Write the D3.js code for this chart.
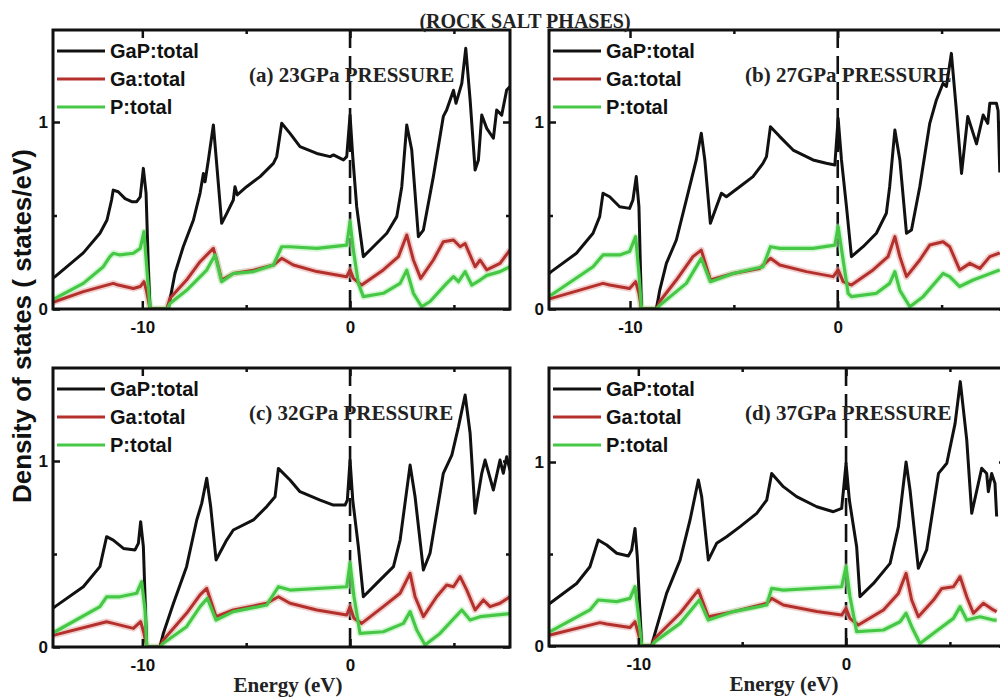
<!DOCTYPE html>
<html lang="en">
<head>
<meta charset="utf-8">
<title>GaP rock salt DOS</title>
<script src="https://cdnjs.cloudflare.com/ajax/libs/d3/7.8.5/d3.min.js"></script>
<style>
  body { margin: 0; background: #fff; }
  svg { display: block; }
  .tick text { font-family: "Liberation Sans", Arial, sans-serif; font-weight: bold; font-size: 17px; fill: #111; }
  .tick line { stroke: #111; stroke-width: 2.5px; }
  .legend text { font-family: "Liberation Sans", Arial, sans-serif; font-weight: bold; font-size: 20px; fill: #111; }
  .serif { font-family: "Liberation Serif", "Times New Roman", serif; font-weight: bold; fill: #222; }
</style>
</head>
<body>
<div id="vis"></div>
<script>
// energies in eV, DOS in states/eV
var gap23 = [[-14.3,0.165],[-14.2,0.173],[-12.84,0.30],[-12.04,0.405],[-11.7,0.476],[-11.48,0.583],[-11.4,0.636],[-11.16,0.627],[-10.83,0.59],[-10.51,0.574],[-10.27,0.574],[-10.1,0.60],[-9.95,0.752],[-9.82,0.62],[-9.71,0.226],[-9.63,0],[-8.75,0],[-8.67,0.05],[-8.43,0.19],[-8.03,0.333],[-7.54,0.476],[-7.22,0.62],[-7.06,0.725],[-6.98,0.68],[-6.82,0.797],[-6.58,0.984],[-6.45,0.815],[-6.18,0.458],[-5.94,0.51],[-5.62,0.583],[-5.54,0.654],[-5.43,0.61],[-4.98,0.654],[-4.33,0.708],[-3.69,0.779],[-3.53,0.815],[-3.29,0.993],[-2.89,0.939],[-2.41,0.868],[-1.6,0.832],[-0.96,0.815],[-0.8,0.824],[-0.32,0.797],[-0.16,0.815],[0,1.037],[0.13,0.815],[0.32,0.547],[0.64,0.28],[1.12,0.333],[1.77,0.405],[2.25,0.494],[2.49,0.654],[2.73,0.984],[2.97,0.85],[3.29,0.387],[3.53,0.422],[4.01,0.708],[4.49,1.03],[4.65,1.064],[4.98,1.17],[5.1,1.1],[5.38,1.207],[5.57,1.394],[5.78,1.118],[6.02,0.743],[6.18,0.797],[6.34,1.037],[6.58,0.966],[6.9,0.913],[7.06,1.064],[7.3,1.037],[7.54,1.171],[7.7,1.19]];
var ga23 = [[-14.3,0.035],[-14.2,0.04],[-12.84,0.093],[-11.4,0.137],[-11.16,0.128],[-10.43,0.11],[-10.1,0.12],[-9.92,0.146],[-9.79,0.093],[-9.63,0],[-8.83,0],[-8.67,0.057],[-7.87,0.155],[-7.22,0.253],[-6.58,0.324],[-6.42,0.262],[-6.18,0.155],[-5.62,0.19],[-4.65,0.208],[-3.69,0.235],[-3.29,0.271],[-2.73,0.235],[-1.6,0.2],[-0.16,0.173],[0,0.209],[0.16,0.164],[0.56,0.128],[1.6,0.209],[2.33,0.28],[2.73,0.396],[3.05,0.262],[3.4,0.164],[4.01,0.262],[4.49,0.36],[4.98,0.369],[5.3,0.333],[5.54,0.35],[6.02,0.226],[6.26,0.262],[6.58,0.209],[6.9,0.227],[7.22,0.244],[7.7,0.316]];
var p23 = [[-14.3,0.05],[-14.2,0.057],[-12.84,0.137],[-11.88,0.226],[-11.56,0.28],[-11.4,0.298],[-11.08,0.289],[-10.43,0.298],[-10.1,0.324],[-9.92,0.414],[-9.79,0.226],[-9.63,0],[-8.8,0],[-8.67,0.03],[-7.87,0.1],[-6.9,0.208],[-6.5,0.289],[-6.18,0.146],[-5.62,0.19],[-4.65,0.2],[-3.69,0.235],[-3.29,0.333],[-2.89,0.333],[-1.6,0.324],[-0.16,0.342],[0,0.467],[0.16,0.315],[0.4,0.137],[0.64,0.066],[1.6,0.084],[2.41,0.137],[2.73,0.208],[3.05,0.084],[3.45,0.012],[3.85,0.04],[4.65,0.137],[4.98,0.173],[5.22,0.146],[5.54,0.2],[5.86,0.128],[6.26,0.155],[6.58,0.18],[7.22,0.2],[7.7,0.226]];

var gap27 = [[-13.9,0.19],[-13.79,0.2],[-12.58,0.298],[-11.78,0.405],[-11.46,0.494],[-11.3,0.619],[-10.98,0.6],[-10.5,0.547],[-10.02,0.538],[-9.86,0.583],[-9.7,0.708],[-9.57,0.547],[-9.45,0],[-8.73,0],[-8.57,0.1],[-8.25,0.244],[-7.77,0.369],[-7.13,0.654],[-6.81,0.797],[-6.57,0.94],[-6.4,0.797],[-6.13,0.458],[-5.84,0.547],[-5.6,0.619],[-5.36,0.6],[-4.72,0.654],[-4.08,0.708],[-3.6,0.779],[-3.43,0.815],[-3.24,0.975],[-2.79,0.922],[-2.15,0.85],[-1.19,0.797],[-0.55,0.779],[-0.14,0.77],[0.02,1.02],[0.18,0.797],[0.42,0.547],[0.66,0.28],[1.22,0.333],[1.86,0.405],[2.34,0.512],[2.5,0.654],[2.75,0.957],[2.99,0.797],[3.31,0.405],[3.55,0.422],[3.95,0.654],[4.43,0.993],[4.75,1.118],[5.07,1.207],[5.23,1.19],[5.47,1.367],[5.71,1.064],[5.96,0.725],[6.26,1.03],[6.68,0.883],[7.0,1.037],[7.22,0.993],[7.32,1.1],[7.64,1.1],[7.72,1.06],[7.8,0.73]];
var ga27 = [[-13.9,0.055],[-13.79,0.057],[-11.3,0.137],[-10.98,0.128],[-10.02,0.11],[-9.73,0.146],[-9.57,0.084],[-9.45,0],[-8.73,0],[-8.57,0.04],[-7.77,0.155],[-6.97,0.28],[-6.57,0.315],[-6.13,0.155],[-5.04,0.19],[-3.76,0.217],[-3.24,0.271],[-2.79,0.235],[-1.51,0.2],[-0.22,0.173],[0.02,0.209],[0.26,0.146],[0.66,0.128],[1.7,0.209],[2.42,0.28],[2.75,0.387],[2.99,0.28],[3.31,0.173],[3.95,0.262],[4.43,0.342],[5.07,0.36],[5.39,0.333],[5.87,0.209],[6.36,0.244],[6.84,0.217],[7.32,0.28],[7.8,0.3]];
var p27 = [[-13.9,0.07],[-13.79,0.075],[-11.78,0.226],[-11.3,0.289],[-10.5,0.289],[-10.02,0.307],[-9.73,0.387],[-9.57,0.19],[-9.45,0],[-8.73,0],[-8.57,0.02],[-7.29,0.137],[-6.57,0.271],[-6.13,0.146],[-5.04,0.19],[-3.6,0.226],[-3.24,0.333],[-2.79,0.324],[-1.19,0.324],[-0.14,0.342],[0.02,0.44],[0.26,0.262],[0.5,0.084],[0.66,0.066],[1.86,0.084],[2.5,0.137],[2.75,0.2],[2.99,0.1],[3.47,0.012],[4.11,0.066],[5.07,0.19],[5.39,0.173],[5.87,0.12],[6.52,0.155],[7.8,0.209]];

var gap32 = [[-14.3,0.21],[-14.2,0.217],[-12.84,0.324],[-12.04,0.432],[-11.72,0.593],[-11.4,0.575],[-10.91,0.53],[-10.35,0.522],[-10.19,0.557],[-10.08,0.674],[-9.95,0.54],[-9.79,0],[-9.15,0],[-8.99,0.073],[-8.5,0.235],[-7.87,0.432],[-7.38,0.683],[-7.14,0.772],[-6.9,0.907],[-6.71,0.755],[-6.45,0.468],[-5.94,0.575],[-5.62,0.629],[-4.65,0.683],[-4.01,0.755],[-3.61,0.808],[-3.45,0.96],[-2.89,0.898],[-2.41,0.835],[-1.44,0.79],[-0.8,0.763],[-0.24,0.763],[-0.13,0.79],[0,1.005],[0.13,0.79],[0.4,0.54],[0.64,0.27],[1.28,0.342],[2.09,0.432],[2.41,0.575],[2.89,0.978],[3.13,0.808],[3.53,0.414],[3.85,0.504],[4.49,0.934],[4.9,1.032],[5.22,1.185],[5.54,1.355],[5.78,1.149],[6.02,0.719],[6.34,0.934],[6.5,1.005],[6.9,0.844],[7.22,1.005],[7.38,0.934],[7.54,1.023],[7.7,0.95]];
var ga32 = [[-14.3,0.062],[-14.2,0.065],[-11.72,0.136],[-11.4,0.127],[-10.43,0.1],[-10.08,0.136],[-9.92,0.073],[-9.79,0],[-9.15,0],[-8.99,0.038],[-7.87,0.181],[-7.22,0.28],[-6.9,0.315],[-6.45,0.163],[-5.62,0.199],[-4.01,0.235],[-3.45,0.27],[-2.89,0.235],[-1.6,0.199],[-0.16,0.172],[0,0.217],[0.19,0.154],[0.56,0.127],[1.6,0.217],[2.41,0.289],[2.89,0.396],[3.13,0.27],[3.53,0.163],[4.17,0.27],[4.65,0.333],[4.98,0.324],[5.3,0.378],[5.62,0.306],[6.02,0.199],[6.42,0.253],[6.74,0.217],[7.22,0.235],[7.7,0.27]];
var p32 = [[-14.3,0.078],[-14.2,0.082],[-12.04,0.217],[-11.72,0.27],[-11.08,0.27],[-10.27,0.289],[-10.03,0.351],[-9.87,0.199],[-9.79,0],[-9.15,0],[-8.99,0.02],[-7.87,0.109],[-7.22,0.217],[-6.87,0.262],[-6.45,0.145],[-5.62,0.19],[-4.01,0.226],[-3.45,0.324],[-2.89,0.306],[-0.16,0.324],[0,0.45],[0.19,0.27],[0.48,0.073],[1.6,0.082],[2.57,0.127],[2.89,0.19],[3.21,0.091],[3.61,0.011],[4.33,0.073],[5.38,0.199],[5.78,0.145],[6.26,0.163],[7.7,0.18]];

var gap37 = [[-14.3,0.228],[-14.25,0.232],[-12.97,0.34],[-12.33,0.431],[-11.93,0.576],[-11.52,0.549],[-11.04,0.504],[-10.48,0.489],[-10.32,0.522],[-10.16,0.639],[-10.05,0.486],[-9.84,0],[-9.36,0],[-9.2,0.069],[-8.64,0.286],[-7.99,0.467],[-7.51,0.685],[-7.11,0.902],[-6.95,0.812],[-6.63,0.467],[-6.23,0.558],[-5.75,0.594],[-5.1,0.649],[-4.3,0.721],[-3.82,0.793],[-3.58,0.938],[-3.02,0.866],[-2.38,0.812],[-1.41,0.757],[-0.61,0.73],[-0.21,0.748],[0,0.993],[0.16,0.793],[0.51,0.54],[0.67,0.268],[1.32,0.34],[2.12,0.449],[2.52,0.649],[2.89,1.0],[3.08,0.848],[3.48,0.422],[3.88,0.522],[4.45,0.938],[4.85,0.993],[5.25,1.21],[5.5,1.437],[5.81,1.12],[6.05,0.721],[6.53,0.966],[6.77,0.938],[6.85,0.839],[7.01,0.938],[7.17,0.884],[7.25,0.704]];
var ga37 = [[-14.3,0.058],[-14.25,0.06],[-11.85,0.127],[-11.52,0.12],[-10.4,0.101],[-10.16,0.132],[-10.0,0.069],[-9.84,0],[-9.36,0],[-9.2,0.042],[-7.99,0.178],[-7.11,0.304],[-6.63,0.159],[-5.43,0.187],[-3.82,0.232],[-3.58,0.259],[-3.02,0.223],[-1.41,0.187],[-0.21,0.168],[0,0.205],[0.19,0.15],[0.59,0.114],[1.8,0.196],[2.52,0.286],[2.89,0.395],[3.16,0.25],[3.48,0.159],[4.21,0.25],[4.61,0.313],[5.17,0.322],[5.49,0.377],[5.81,0.268],[6.13,0.178],[6.61,0.232],[7.09,0.196],[7.25,0.187]];
var p37 = [[-14.3,0.075],[-14.25,0.078],[-12.33,0.196],[-11.93,0.25],[-11.04,0.241],[-10.4,0.259],[-10.16,0.322],[-10.0,0.178],[-9.84,0],[-9.36,0],[-9.2,0.024],[-7.99,0.123],[-7.06,0.25],[-6.63,0.141],[-5.43,0.187],[-3.82,0.223],[-3.58,0.313],[-3.02,0.304],[-0.21,0.322],[0,0.431],[0.19,0.268],[0.51,0.078],[1.8,0.087],[2.6,0.132],[2.89,0.178],[3.16,0.105],[3.56,0.014],[4.21,0.069],[5.17,0.15],[5.49,0.214],[5.81,0.141],[6.45,0.159],[7.09,0.141],[7.25,0.141]];

var seriesNames = ['GaP:total', 'Ga:total', 'P:total'];
var panelTags = ['(a)', '(b)', '(c)', '(d)'];
var pressures = ['23GPa', '27GPa', '32GPa', '37GPa'];
var xMajorTicks = [-10, 0];
var xMinorTicks = [-5, 5];
var yMajorTicks = [0, 1];
var yMinorTicks = [0.5];
var allData = [[gap23, ga23, p23], [gap27, ga27, p27], [gap32, ga32, p32], [gap37, ga37, p37]];

var colors = ['#111111', '#b3302c', '#46c846'];
var halos = [null, '#e6a7a4', '#aef0ae'];
var widths = [3, 3, 3.2];

// panel boxes in pixels, plus the x range each frame covers
var layout = [
  {left: 53,  top: 30,  w: 457, h: 279, x0: -14.3, x1: 7.7, yMax: 1.492, xlab: false},
  {left: 549, top: 30,  w: 457, h: 279, x0: -13.9, x1: 8.1, yMax: 1.492, xlab: false},
  {left: 53,  top: 368, w: 457, h: 279, x0: -14.3, x1: 7.7, yMax: 1.5,   xlab: true},
  {left: 549, top: 368, w: 457, h: 278, x0: -14.3, x1: 7.7, yMax: 1.511, xlab: true}
];

var width = 1000, height = 699;

var svg = d3.select('#vis')
  .append('svg')
  .attr('width', width)
  .attr('height', height);

svg.append('rect').attr('width', width).attr('height', height).attr('fill', '#fff');

var defs = svg.append('defs');

layout.forEach(function(p, i) {
  var x = d3.scaleLinear().domain([p.x0, p.x1]).range([0, p.w]);
  var y = d3.scaleLinear().domain([0, p.yMax]).range([p.h, 0]);

  defs.append('clipPath')
    .attr('id', 'clip' + i)
    .append('rect')
    .attr('width', p.w)
    .attr('height', p.h);

  var g = svg.append('g')
    .attr('transform', 'translate(' + p.left + ',' + p.top + ')');

  // dashed Fermi level
  g.append('line')
    .attr('x1', x(0)).attr('x2', x(0))
    .attr('y1', 0).attr('y2', p.h)
    .attr('stroke', '#111')
    .attr('stroke-width', 2.6)
    .attr('stroke-dasharray', '18,8');

  var line = d3.line()
    .x(function(d) { return x(d[0]); })
    .y(function(d) { return y(d[1]); });

  var plot = g.append('g').attr('clip-path', 'url(#clip' + i + ')');

  // soft halo under the coloured curves (the scan blurs them)
  allData[i].forEach(function(series, k) {
    if (!halos[k]) return;
    plot.append('path')
      .datum(series)
      .attr('fill', 'none')
      .attr('stroke', halos[k])
      .attr('stroke-width', 6.5)
      .attr('stroke-opacity', 0.55)
      .attr('stroke-linejoin', 'round')
      .attr('d', line);
  });

  allData[i].forEach(function(series, k) {
    plot.append('path')
      .datum(series)
      .attr('fill', 'none')
      .attr('stroke', colors[k])
      .attr('stroke-width', widths[k])
      .attr('stroke-linejoin', 'round')
      .attr('d', line);
  });

  // axes: major ticks with labels, minor ticks without, all pointing inward
  g.append('g')
    .attr('transform', 'translate(0,' + p.h + ')')
    .call(d3.axisBottom(x).tickValues(xMajorTicks).tickSize(-8).tickPadding(12)
      .tickFormat(function(d) { return String(d); }));
  g.append('g')
    .attr('transform', 'translate(0,' + p.h + ')')
    .call(d3.axisBottom(x).tickValues(xMinorTicks).tickSize(-4).tickFormat(''));
  g.append('g')
    .call(d3.axisTop(x).tickValues(xMajorTicks).tickSize(-8).tickFormat(''));
  g.append('g')
    .call(d3.axisTop(x).tickValues(xMinorTicks).tickSize(-4).tickFormat(''));
  g.append('g')
    .call(d3.axisLeft(y).tickValues(yMajorTicks).tickSize(-7).tickPadding(5)
      .tickFormat(function(d) { return String(d); }));
  g.append('g')
    .call(d3.axisLeft(y).tickValues(yMinorTicks).tickSize(-4).tickFormat(''));
  g.append('g')
    .attr('transform', 'translate(' + p.w + ',0)')
    .call(d3.axisRight(y).tickValues(yMajorTicks).tickSize(-7).tickFormat(''));
  g.append('g')
    .attr('transform', 'translate(' + p.w + ',0)')
    .call(d3.axisRight(y).tickValues(yMinorTicks).tickSize(-4).tickFormat(''));

  g.selectAll('.domain').remove();

  // frame
  g.append('rect')
    .attr('width', p.w)
    .attr('height', p.h)
    .attr('fill', 'none')
    .attr('stroke', '#111')
    .attr('stroke-width', 3);

  // legend
  var legend = g.append('g').attr('class', 'legend');
  seriesNames.forEach(function(name, k) {
    var ly = 21 + k * 28;
    legend.append('line')
      .attr('x1', 4).attr('x2', 52)
      .attr('y1', ly).attr('y2', ly)
      .attr('stroke', colors[k])
      .attr('stroke-width', widths[k]);
    legend.append('text')
      .attr('x', 57)
      .attr('y', ly)
      .attr('dy', '0.36em')
      .text(name);
  });

  g.append('text')
    .attr('class', 'serif')
    .attr('x', 196)
    .attr('y', 52)
    .style('font-size', '21px')
    .text(panelTags[i] + ' ' + pressures[i] + ' PRESSURE');

  if (p.xlab) {
    g.append('text')
      .attr('class', 'serif')
      .attr('x', 235)
      .attr('y', p.h + 45)
      .attr('text-anchor', 'middle')
      .style('font-size', '21px')
      .text('Energy (eV)');
  }
});

svg.append('text')
  .attr('class', 'serif')
  .attr('x', 525)
  .attr('y', 28)
  .attr('text-anchor', 'middle')
  .style('font-size', '20px')
  .text('(ROCK SALT PHASES)');

svg.append('text')
  .attr('transform', 'translate(31,326) rotate(-90)')
  .attr('text-anchor', 'middle')
  .style('font-family', '"Liberation Sans", Arial, sans-serif')
  .style('font-weight', 'bold')
  .style('font-size', '26px')
  .attr('fill', '#111')
  .text('Density of states ( states/eV)');
</script>
</body>
</html>
